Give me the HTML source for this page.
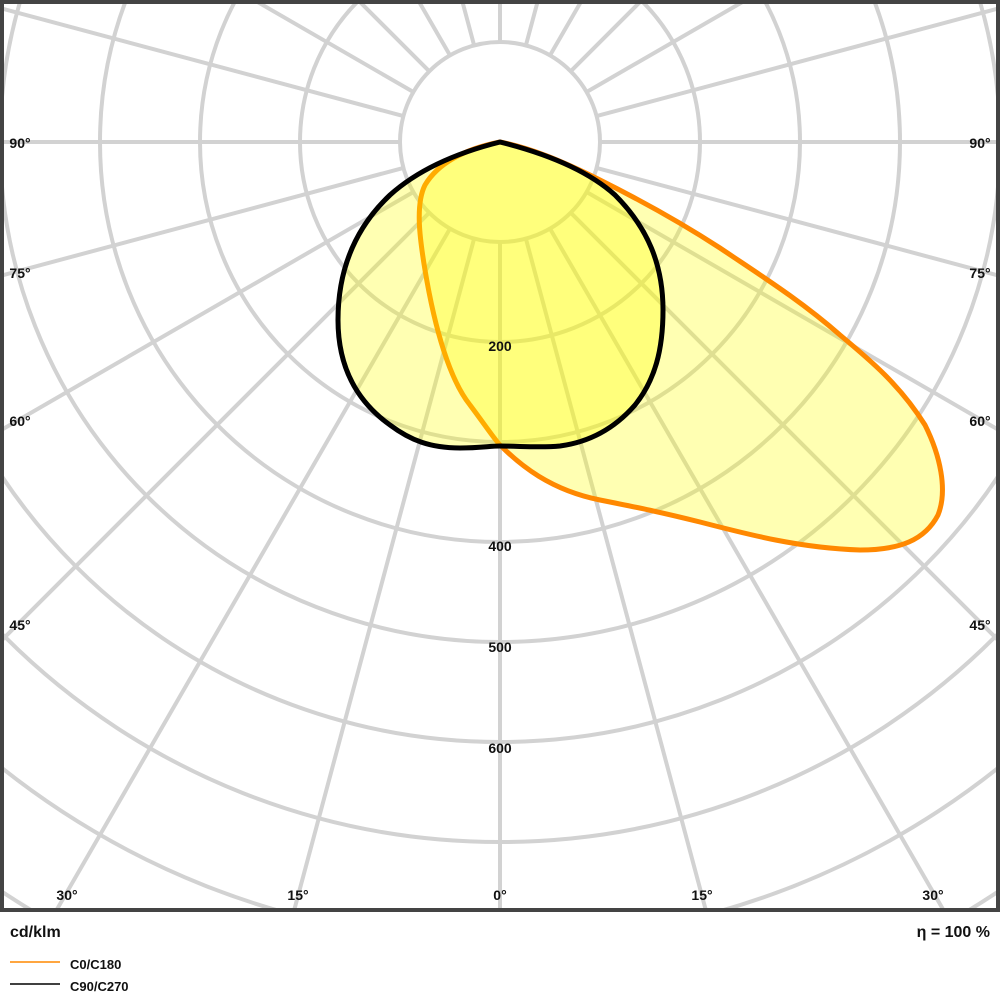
<!DOCTYPE html>
<html><head><style>html,body{margin:0;padding:0;background:#fff;width:1000px;height:1000px;overflow:hidden}svg{display:block}</style></head><body>
<svg width="1000" height="1000" viewBox="0 0 1000 1000" xmlns="http://www.w3.org/2000/svg" font-family="Liberation Sans, sans-serif">
<rect width="1000" height="1000" fill="#fff"/>
<svg x="2" y="2" width="996" height="908" viewBox="2 2 996 908" overflow="hidden">
<g stroke="#d2d2d2" stroke-width="4" fill="none">
<circle cx="500" cy="142" r="100"/><circle cx="500" cy="142" r="200"/><circle cx="500" cy="142" r="300"/>
<circle cx="500" cy="142" r="400"/><circle cx="500" cy="142" r="500"/><circle cx="500" cy="142" r="600"/>
<circle cx="500" cy="142" r="700"/><circle cx="500" cy="142" r="800"/><circle cx="500" cy="142" r="900"/>
<g id="sp">
<line x1="500" y1="242" x2="500" y2="1100"/>
</g>
<use href="#sp" transform="rotate(15 500 142)"/><use href="#sp" transform="rotate(30 500 142)"/>
<use href="#sp" transform="rotate(45 500 142)"/><use href="#sp" transform="rotate(60 500 142)"/>
<use href="#sp" transform="rotate(75 500 142)"/><use href="#sp" transform="rotate(90 500 142)"/>
<use href="#sp" transform="rotate(105 500 142)"/><use href="#sp" transform="rotate(120 500 142)"/>
<use href="#sp" transform="rotate(135 500 142)"/><use href="#sp" transform="rotate(150 500 142)"/>
<use href="#sp" transform="rotate(165 500 142)"/><use href="#sp" transform="rotate(180 500 142)"/>
<use href="#sp" transform="rotate(-15 500 142)"/><use href="#sp" transform="rotate(-30 500 142)"/>
<use href="#sp" transform="rotate(-45 500 142)"/><use href="#sp" transform="rotate(-60 500 142)"/>
<use href="#sp" transform="rotate(-75 500 142)"/><use href="#sp" transform="rotate(-90 500 142)"/>
<use href="#sp" transform="rotate(-105 500 142)"/><use href="#sp" transform="rotate(-120 500 142)"/>
<use href="#sp" transform="rotate(-135 500 142)"/><use href="#sp" transform="rotate(-150 500 142)"/>
<use href="#sp" transform="rotate(-165 500 142)"/>
</g>
</svg>
<path d="M500,142 C470,148 440,160 425,185 C415,205 420,240 425,270 C435,330 450,380 470,405 C485,425 495,440 500,445 C520,465 550,490 600,500 C640,508 660,512 700,522 C750,535 800,548 860,550 C900,550 925,540 938,515 C948,490 940,455 925,425 C900,385 870,360 840,335 C800,300 760,275 720,248 C680,222 640,200 600,180 C560,160 530,148 500,142 Z" fill="rgba(255,255,0,0.3)" stroke="#ff8800" stroke-width="5" stroke-linejoin="round"/>
<path d="M500,142 C460,152 420,168 390,195 C355,228 338,270 338,320 C338,365 355,400 390,425 C410,440 430,448 460,448 C480,448 490,446 500,446 C520,446 540,448 560,446 C590,442 615,428 635,405 C655,380 663,350 663,310 C663,265 648,228 615,195 C585,168 540,152 500,142 Z" fill="rgba(255,255,0,0.3)" stroke="#000" stroke-width="5" stroke-linejoin="round"/>
<g font-size="14" font-weight="bold" fill="#111" text-anchor="middle">
<text x="500" y="351">200</text><text x="500" y="551">400</text><text x="500" y="652">500</text><text x="500" y="753">600</text>
<text x="20" y="148">90°</text><text x="20" y="278">75°</text><text x="20" y="426">60°</text><text x="20" y="630">45°</text>
<text x="980" y="148">90°</text><text x="980" y="278">75°</text><text x="980" y="426">60°</text><text x="980" y="630">45°</text>
<text x="67" y="900">30°</text><text x="298" y="900">15°</text><text x="500" y="900">0°</text><text x="702" y="900">15°</text><text x="933" y="900">30°</text>
</g>
<rect x="2" y="2" width="996" height="908" fill="none" stroke="#444" stroke-width="4"/>
<text x="10" y="937" font-size="16" font-weight="bold" fill="#111">cd/klm</text>
<text x="990" y="937" font-size="16" font-weight="bold" fill="#111" text-anchor="end">η = 100 %</text>
<line x1="10" y1="962" x2="60" y2="962" stroke="#ff8800" stroke-width="1.5"/>
<line x1="10" y1="984" x2="60" y2="984" stroke="#000" stroke-width="1.5"/>
<text x="70" y="969" font-size="13" font-weight="bold" fill="#111">C0/C180</text>
<text x="70" y="991" font-size="13" font-weight="bold" fill="#111">C90/C270</text>
</svg>
</body></html>
